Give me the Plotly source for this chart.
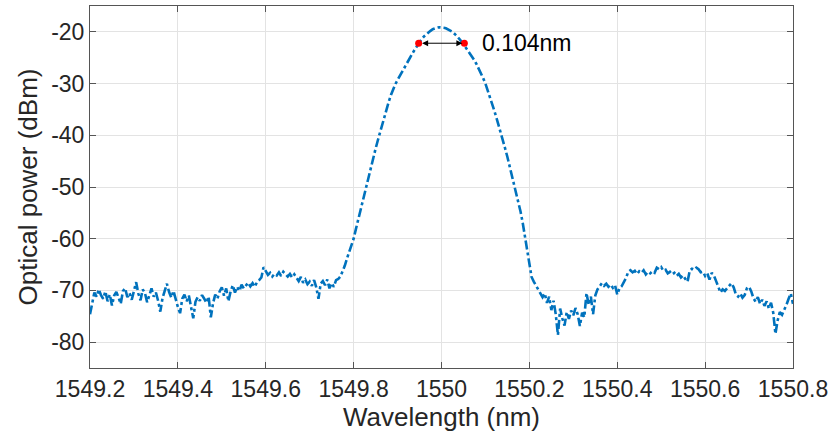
import numpy as np
import plotly.graph_objects as go

# Optical spectrum sampled on a 0.005 nm grid from 1549.200 nm
wl_start = 1549.200
wl_step = 0.005

# Measured optical power (dBm), 1549.200 ... 1550.800 nm
power_left = [
    -74.6, -72.8, -70.4, -71.2, -69.8, -70.9, -71.6, -70.2, -72.1, -70.8,
    -72.9, -71.0, -70.3, -71.4, -72.6, -70.1, -69.6, -71.3, -70.5, -71.8,
    -70.2, -68.4, -70.6, -71.9, -69.8, -70.5, -72.3, -70.9, -69.6, -71.2,
    -70.4, -72.0, -74.1, -71.5, -69.9, -68.7, -70.3, -71.4, -70.1, -71.9,
    -73.2, -74.4, -71.6, -70.8, -72.1, -71.0, -73.4, -75.4, -72.2, -71.3,
    -72.0, -70.9, -71.6, -72.4, -71.2, -75.2, -72.5, -70.8, -71.6, -70.2,
    -69.4, -71.0, -69.6, -72.1, -70.2, -69.0, -70.4, -69.3, -70.1, -68.9,
    -69.6, -69.0, -68.5, -69.2, -68.6, -69.3, -68.4, -68.0, -67.5, -65.5,
    -66.2, -67.0, -66.6, -67.3, -66.8, -67.1, -66.5, -67.2, -66.4, -66.9,
    -67.3, -66.8, -67.5, -66.9, -67.6, -68.2, -67.4, -68.5, -67.9, -68.8,
    -68.3, -69.1, -68.0, -69.4, -71.6, -68.7, -68.2, -69.0, -67.9, -69.6,
    -68.6, -69.3, -68.0, -67.8, -67.3, -66.3, -65.2, -63.8, -62.5, -61.3,
]
power_peak = [
    -60.0, -58.2, -56.4, -54.6, -52.9, -51.1, -49.4, -47.7, -46.0, -44.3,
    -42.6, -41.0, -39.4, -37.8, -36.3, -34.9, -33.5, -32.2, -31.0, -30.1,
    -29.3, -28.5, -27.7, -26.9, -26.1, -25.4, -24.7, -24.0, -23.3, -22.6,
    -22.0, -21.4, -20.9, -20.5, -20.1, -19.8, -19.5, -19.3, -19.2, -19.1,
    -19.1, -19.2, -19.3, -19.5, -19.7, -20.0, -20.4, -20.8, -21.3, -21.8,
    -22.4, -22.9, -23.5, -24.1, -24.8, -25.5, -26.3, -27.1, -28.0, -29.0,
    -30.0, -31.2, -32.5, -33.8, -35.2, -36.6, -38.0, -39.5, -41.0, -42.6,
    -44.2, -45.9, -47.5, -49.2, -50.9, -52.8, -54.8, -57.0, -59.5, -62.3,
    -65.0, -67.4, -68.3,
]
power_right = [
    -69.0, -69.8, -70.6, -71.3, -70.6, -72.4, -71.2, -73.8, -72.0, -74.6,
    -78.6, -73.5, -75.4, -76.8, -74.2, -75.5, -73.9, -74.8, -73.4, -74.6,
    -76.9, -74.3, -75.2, -70.5, -72.8, -71.2, -74.6, -71.0, -69.8, -69.2,
    -68.6, -69.1, -68.7, -69.3, -68.9, -69.5, -69.0, -70.8, -69.6, -69.2,
    -68.4, -67.6, -66.4, -66.1, -66.5, -66.2, -66.8, -66.3, -66.6, -66.1,
    -66.9, -66.4, -66.7, -66.3, -66.6, -65.6, -65.9, -65.5, -66.2, -66.0,
    -66.7, -66.4, -66.9, -66.6, -67.2, -66.8, -67.5, -67.1, -67.8, -68.3,
    -66.2, -65.8, -66.0, -65.6, -65.9, -66.5, -66.4, -67.2, -66.7, -67.9,
    -66.6, -67.1, -68.2, -69.5, -70.4, -69.8, -70.1, -69.6, -69.0, -68.6,
    -69.4, -70.8, -71.2, -70.6, -71.4, -70.9, -69.6, -69.3, -70.2, -71.5,
    -72.2, -71.3, -72.6, -71.8, -73.0, -72.1, -73.5, -72.4, -74.3, -78.4,
    -75.8, -74.2, -74.7, -73.9, -72.8, -71.6, -70.6, -72.6,
]
power = power_left + power_peak + power_right
wavelength = np.round(wl_start + wl_step * np.arange(len(power)), 3)

# -3 dB linewidth markers
fwhm_left = 1549.948
fwhm_nm = 0.104
fwhm_right = fwhm_left + fwhm_nm
half_level = -22.2
fwhm_label = "0.104nm"

x_ticks = [1549.2, 1549.4, 1549.6, 1549.8, 1550.0, 1550.2, 1550.4, 1550.6, 1550.8]
x_tick_text = ["1549.2", "1549.4", "1549.6", "1549.8", "1550",
               "1550.2", "1550.4", "1550.6", "1550.8"]
y_ticks = [-80, -70, -60, -50, -40, -30, -20]
y_tick_text = ["-80", "-70", "-60", "-50", "-40", "-30", "-20"]

FONT = "Liberation Sans, Arial, Helvetica, sans-serif"
TXT = "#262626"
AXC = "#555555"
GRID = "#e3e3e3"

fig = go.Figure()
fig.add_trace(go.Scatter(
    x=wavelength, y=power, mode="lines",
    line=dict(color="#0072BD", width=2.6, dash="9px,3px,3px,3px"),
    showlegend=False, hoverinfo="skip",
))
fig.add_trace(go.Scatter(
    x=[fwhm_left, fwhm_right], y=[half_level, half_level], mode="markers",
    marker=dict(color="#ff0000", size=7),
    showlegend=False, hoverinfo="skip",
))

# double-headed arrow between the -3 dB points
fig.add_annotation(
    x=fwhm_right, y=half_level, ax=fwhm_left, ay=half_level,
    xref="x", yref="y", axref="x", ayref="y",
    text="", showarrow=True, arrowside="end+start",
    arrowhead=2, arrowsize=1.2, arrowwidth=1, arrowcolor="#000000",
    standoff=2, startstandoff=2,
)
fig.add_annotation(
    x=fwhm_right + 0.035, y=half_level, xref="x", yref="y",
    text=fwhm_label, showarrow=False, xanchor="left", yanchor="middle",
    font=dict(family=FONT, size=23, color="#000000"),
)

axis_common = dict(
    showline=True, linecolor=AXC, linewidth=1, mirror="ticks",
    ticks="inside", ticklen=6, tickcolor=AXC, tickwidth=1,
    showgrid=True, gridcolor=GRID, gridwidth=1, zeroline=False,
    tickfont=dict(family=FONT, size=23, color=TXT),
)

fig.update_xaxes(
    range=[1549.2, 1550.8], tickmode="array",
    tickvals=x_ticks, ticktext=x_tick_text,
    title=dict(text="Wavelength (nm)", standoff=4,
               font=dict(family=FONT, size=26, color=TXT)),
    **axis_common,
)
fig.update_yaxes(
    range=[-85, -15], tickmode="array", tickvals=y_ticks, ticktext=y_tick_text,
    title=dict(text="Optical power (dBm)", standoff=6,
               font=dict(family=FONT, size=26, color=TXT)),
    **axis_common,
)

fig.update_layout(
    width=833, height=439,
    margin=dict(l=90, r=38, t=5, b=71),
    paper_bgcolor="#ffffff", plot_bgcolor="#ffffff",
)

fig.write_html("out.html")
